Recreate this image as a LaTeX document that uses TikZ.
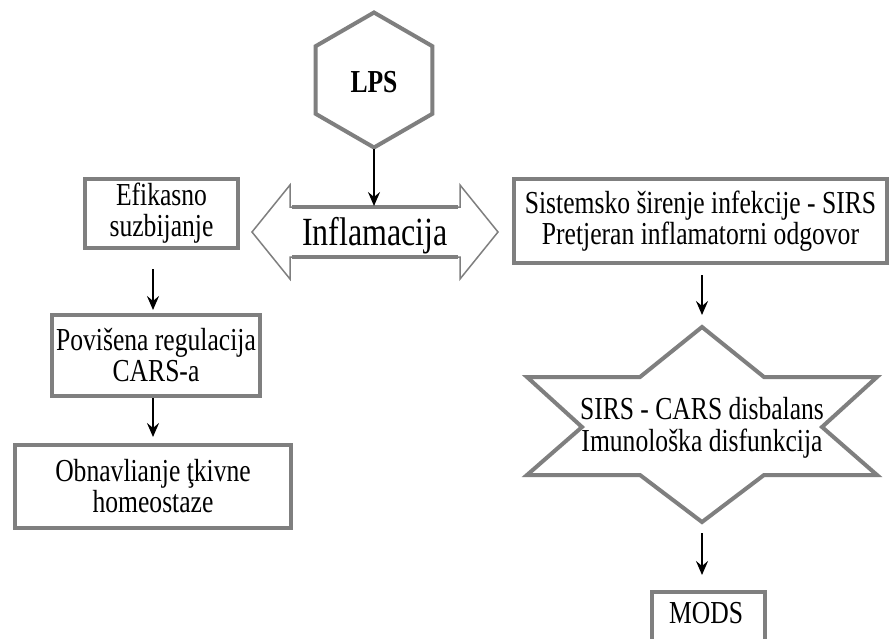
\documentclass[tikz,border=0pt]{standalone}
\usepackage{fontspec}
\setmainfont[FakeStretch=0.8]{Liberation Serif}
\usetikzlibrary{arrows.meta,calc}
\definecolor{bgray}{RGB}{127,127,127}
\begin{document}
\begin{tikzpicture}[x=1pt,y=-1pt,
  gbox/.style={draw=bgray, line width=4pt, fill=white, align=center, inner sep=0pt,
               font=\fontsize{32}{31}\selectfont},
  gshape/.style={draw=bgray, line width=4pt, fill=white, line join=miter},
  txt/.style={align=center, inner sep=0pt, font=\fontsize{32}{32}\selectfont},
  arr/.style={-{Stealth[length=14pt,width=12pt,inset=5pt]}, line width=2.4pt, black}]
\useasboundingbox (0,0) rectangle (890,638);
\clip (0,0) rectangle (890,638);
\fill[white] (0,0) rectangle (890,638);

% LPS hexagon
\coordinate (lpsc) at (374,80);
\draw[gshape] (lpsc) +(90:67.5) -- +(150:67.5) -- +(210:67.5) -- +(270:67.5)
      -- +(330:67.5) -- +(30:67.5) -- cycle;
\node[txt, font=\bfseries\fontsize{32}{32}\selectfont] (lps) at (374,82) {LPS};
\coordinate (lpsbot) at (374,149);

% Inflamacija double arrow
\draw[draw=bgray, fill=white, line width=1.5pt, line join=miter]
  (252,232) -- (290,185) -- (290,207) -- (460,207) -- (460,185) -- (498,232)
  -- (460,279) -- (460,257) -- (290,257) -- (290,279) -- cycle;
\draw[bgray, line width=4pt] (292,207) -- (458,207) (292,257) -- (458,257);
\coordinate (shafttop) at (374,206);
\node[txt, font=\fontsize{40}{40}\selectfont, anchor=base] (infl) at (375,245) {Inflamacija};

% left column
\node[gbox, minimum width=153, minimum height=69] (eff) at (161.5,213.5) {Efikasno\\suzbijanje};
\node[gbox, minimum width=208, minimum height=81] (pov) at (156,355.5) {Povišena regulacija\\CARS-a};
\node[gbox, minimum width=276, minimum height=83] (obn) at (153,486.5) {Obnavlianje ţkivne\\homeostaze};

% right column
\node[gbox, minimum width=373, minimum height=84] (sirs) at (700.5,221)
  {Sistemsko širenje infekcije - SIRS\\Pretjeran inflamatorni odgovor};

\draw[gshape] (702,327) -- (764,377) -- (877,377) -- (822,427) -- (877,475) -- (764,475)
  -- (702,522) -- (640,475) -- (527,475) -- (582,427) -- (527,377) -- (640,377) -- cycle;
\coordinate (startop) at (702,327);
\coordinate (starbot) at (702,522);
\node[txt] (star) at (702,428) {SIRS - CARS disbalans\\Imunološka disfunkcija};

\node[draw=bgray, line width=4pt, minimum width=113, minimum height=80, anchor=north, inner sep=0pt]
  (modsbox) at (708.5,590) {};
\node[txt] (mods) at (706,613) {MODS};

% connectors
\draw[arr] (lpsbot) -- (shafttop);
\draw[arr, shorten <=19pt, shorten >=3pt] (eff.south -| obn.north) -- (obn.north |- pov.north);
\draw[arr, shorten >=6pt] (pov.south -| obn.north) -- (obn.north);
\draw[arr, shorten <=10pt, shorten >=12pt] (sirs.south -| startop) -- (startop);
\draw[arr, shorten <=11pt, shorten >=15pt] (starbot) -- (modsbox.north -| starbot);
\end{tikzpicture}
\end{document}
